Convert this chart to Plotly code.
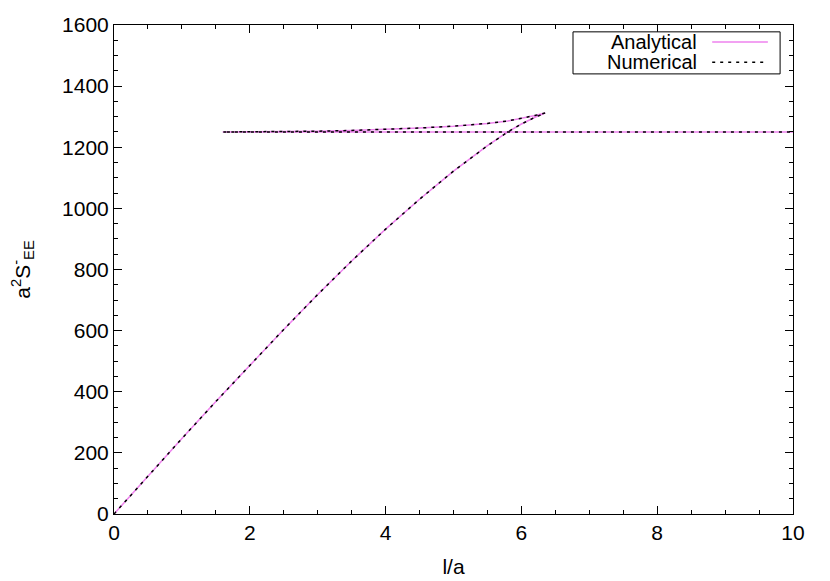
import plotly.graph_objects as go

# Lower branch (from origin up to the cusp)
lower_x = [0, 0.5, 1.0, 1.5, 2.0, 2.5, 3.0, 3.5, 4.0, 4.5, 5.0, 5.5, 5.8, 6.0, 6.2, 6.35]
lower_y = [0, 124, 247, 368, 487, 604, 718, 828, 932, 1030, 1122, 1205, 1250, 1276, 1298, 1312]
# Upper branch (from cusp back to the left)
upper_x = [6.35, 6.2, 6.0, 5.8, 5.5, 5.0, 4.5, 4.0, 3.5, 3.0, 2.5, 2.0, 1.6]
upper_y = [1312, 1304, 1294, 1286, 1278, 1269, 1263, 1258, 1255, 1252.5, 1251, 1250.4, 1250]
# Plateau
flat_x = [1.6, 10]
flat_y = [1250, 1250]

xs = lower_x + upper_x + flat_x
ys = lower_y + upper_y + flat_y

FONT = "Liberation Sans, Arial, sans-serif"
FS = 21
VIOLET = "#ee82ee"
DOTS = "3px,5px"

fig = go.Figure()
fig.add_trace(go.Scatter(x=xs, y=ys, mode="lines", name="Analytical",
                         line=dict(color=VIOLET, width=1.5), showlegend=False))
fig.add_trace(go.Scatter(x=xs, y=ys, mode="lines", name="Numerical",
                         line=dict(color="black", width=1.5, dash=DOTS), showlegend=False))

axis_common = dict(showgrid=False, zeroline=False, showline=True, linecolor="black",
                   linewidth=1, mirror="allticks", ticks="inside", ticklen=8,
                   tickcolor="black", tickwidth=1, automargin=False,
                   tickfont=dict(family=FONT, size=FS, color="black"))

fig.update_xaxes(range=[0, 10], tick0=0, dtick=2,
                 minor=dict(dtick=0.5, ticks="inside", ticklen=4, tickcolor="black"),
                 title=dict(text="l/a", font=dict(family=FONT, size=FS, color="black"), standoff=16),
                 **axis_common)
fig.update_yaxes(range=[0, 1600], tick0=0, dtick=200,
                 minor=dict(dtick=50, ticks="inside", ticklen=4, tickcolor="black"),
                 title=dict(text="a<sup>2</sup>S<sup>-</sup><sub>EE</sub>",
                            font=dict(family=FONT, size=FS, color="black"), standoff=35),
                 **axis_common)

# Gnuplot-style key box (text, then line sample)
shapes = [
    dict(type="rect", xref="paper", yref="paper", x0=0.676, x1=0.981, y0=0.900, y1=0.986,
         line=dict(color="black", width=1), fillcolor="white", layer="above"),
    dict(type="line", xref="paper", yref="paper", x0=0.881, x1=0.963, y0=0.965, y1=0.965,
         line=dict(color=VIOLET, width=1.5)),
    dict(type="line", xref="paper", yref="paper", x0=0.881, x1=0.963, y0=0.924, y1=0.924,
         line=dict(color="black", width=1.5, dash=DOTS)),
]
annotations = [
    dict(xref="paper", yref="paper", x=0.861, y=0.965, text="Analytical", showarrow=False,
         xanchor="right", yanchor="middle", font=dict(family=FONT, size=FS - 1, color="black")),
    dict(xref="paper", yref="paper", x=0.861, y=0.924, text="Numerical", showarrow=False,
         xanchor="right", yanchor="middle", font=dict(family=FONT, size=FS - 1, color="black")),
]

# The page body has an 8px margin, so the figure is sized/offset to compensate
fig.update_layout(width=822, height=573, margin=dict(l=106, r=37, t=17, b=67),
                  plot_bgcolor="white", paper_bgcolor="white",
                  shapes=shapes, annotations=annotations)

fig.write_html("out.html")
